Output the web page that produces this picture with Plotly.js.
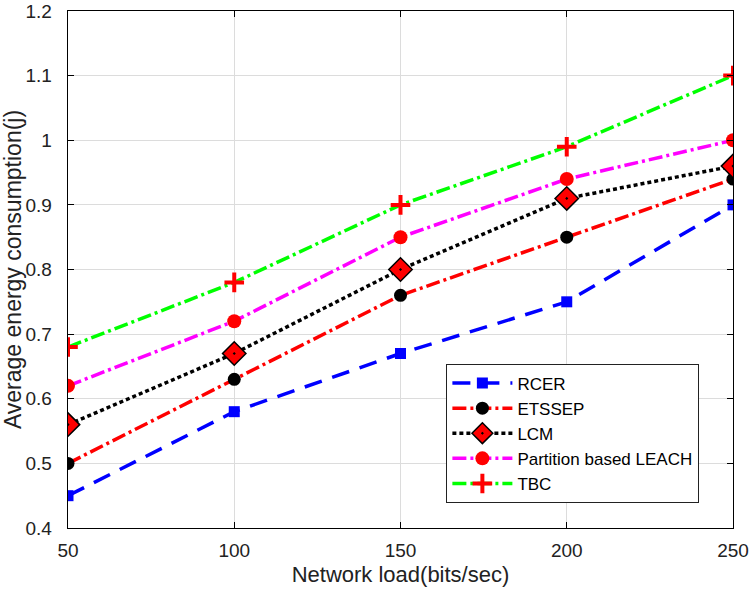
<!DOCTYPE html>
<html><head><meta charset="utf-8">
<script src="https://cdn.plot.ly/plotly-3.0.1.min.js"></script>
<style>body{margin:0;background:#fff}#c{width:750px;height:590px}</style>
</head><body><div id="c"></div>
<script>
const load = [50, 100, 150, 200, 250];
const rcer = [0.45, 0.58, 0.67, 0.75, 0.90];
const etssep = [0.50, 0.63, 0.76, 0.85, 0.94];
const lcm = [0.56, 0.67, 0.80, 0.91, 0.96];
const leach = [0.62, 0.72, 0.85, 0.94, 1.00];
const tbc = [0.68, 0.78, 0.90, 0.99, 1.10];

const FONT = 'Liberation Sans, Arial, sans-serif';
const traces = [
  {x: load, y: rcer, name: 'RCER', mode: 'lines+markers',
   line: {color: '#0000ff', width: 3.5, dash: '18px,11px'},
   marker: {symbol: 'square', size: 11, color: '#0000ff'}},
  {x: load, y: etssep, name: 'ETSSEP', mode: 'lines+markers',
   line: {color: '#ff0000', width: 3.5, dash: '14px,4px,3px,4px'},
   marker: {symbol: 'circle', size: 13, color: '#000000'}},
  {x: load, y: lcm, name: 'LCM', mode: 'lines+markers',
   line: {color: '#000000', width: 3.5, dash: '4px,3px'},
   marker: {symbol: 'diamond-dot', size: 18, color: '#ff0000', line: {color: '#000000', width: 1.5}}},
  {x: load, y: leach, name: 'Partition based LEACH', mode: 'lines+markers',
   line: {color: '#ff00ff', width: 3.5, dash: '14px,4px,3px,4px'},
   marker: {symbol: 'circle', size: 14, color: '#ff0000'}},
  {x: load, y: tbc, name: 'TBC', mode: 'lines+markers',
   line: {color: '#00ff00', width: 3.5, dash: '14px,4px,3px,4px'},
   marker: {symbol: 'cross-thin', size: 14, color: '#ff0000', line: {color: '#ff0000', width: 4}}}
];

const axisCommon = {
  showline: true, linecolor: '#000', linewidth: 1.3, mirror: 'ticks',
  ticks: 'inside', ticklen: 6, tickcolor: '#000',
  showgrid: true, gridcolor: '#dcdcdc', gridwidth: 1, zeroline: false,
  ticklabeloverflow: 'allow',
  tickfont: {family: FONT, size: 19, color: '#222'}
};

const layout = {
  width: 750, height: 590,
  margin: {l: 68, r: 17, t: 11, b: 62},
  paper_bgcolor: '#fff', plot_bgcolor: '#fff',
  showlegend: true,
  xaxis: Object.assign({}, axisCommon, {
    range: [50, 250], tickvals: [50, 100, 150, 200, 250],
    ticklabelstandoff: 5,
    title: {text: 'Network load(bits/sec)', standoff: 6,
      font: {family: FONT, size: 22, color: '#222'}}
  }),
  yaxis: Object.assign({}, axisCommon, {
    range: [0.4, 1.2], tickvals: [0.4, 0.5, 0.6, 0.7, 0.8, 0.9, 1, 1.1, 1.2],
    ticktext: ['0.4', '0.5', '0.6', '0.7', '0.8', '0.9', '1', '1.1', '1.2'],
    ticklabelstandoff: 11,
    title: {text: 'Average energy consumption(j)', standoff: 6,
      font: {family: FONT, size: 23, color: '#222'}}
  }),
  legend: {
    x: 0.949, y: 0.048, xanchor: 'right', yanchor: 'bottom',
    bgcolor: '#fff', bordercolor: '#222', borderwidth: 1.3,
    font: {family: FONT, size: 17, color: '#000'},
    tracegroupgap: 0, itemwidth: 60
  }
};

Plotly.newPlot('c', traces, layout, {displayModeBar: false, staticPlot: true});
</script>
</body></html>
